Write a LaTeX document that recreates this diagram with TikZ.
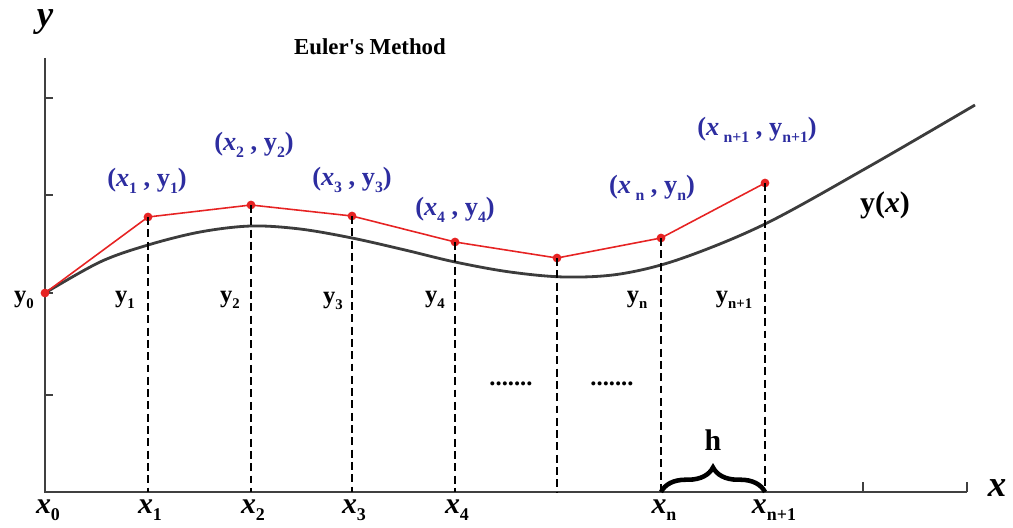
\documentclass[tikz,border=0pt]{standalone}
\usepackage{fontspec}
\setmainfont{Liberation Serif}
\usetikzlibrary{decorations.pathreplacing}
\definecolor{ptblue}{RGB}{45,45,160}
\definecolor{ptred}{RGB}{230,35,35}
\definecolor{curvegray}{RGB}{60,60,60}
\newcommand{\lo}[1]{\raisebox{-0.55ex}{\scalebox{0.6}{\bfseries #1}}}
\newcommand{\xx}{\textbf{\textit{x}}}
\newcommand{\yy}{\textbf{y}}
\begin{document}
\begin{tikzpicture}[x=0.02cm,y=-0.02cm,
  axisline/.style={draw=black!75,line width=1.1pt},
  exact/.style={draw=curvegray,line width=1.6pt},
  euler/.style={draw=ptred,line width=0.9pt},
  guide/.style={draw=black,line width=0.8pt,dash pattern=on 4.5pt off 2.5pt},
  pt/.style={circle,fill=ptred,inner sep=0pt,minimum size=5pt},
  ptlabel/.style={text=ptblue,font=\fontsize{15}{17}\selectfont\bfseries},
  ylab/.style={font=\fontsize{14}{16}\selectfont\bfseries},
  xlab/.style={font=\fontsize{17}{19}\selectfont\bfseries},
  ticks/.style={draw=black!75,line width=1pt}]
\useasboundingbox (0,0) rectangle (1013,527);
% axes
\coordinate (O) at (45,492);
\coordinate (ytop) at (45,58);
\coordinate (xend) at (967,492);
\draw[axisline] (ytop) -- (O) -- (xend);
\foreach \t in {98,195,293,395} \draw[ticks] (45,\t) -- (53,\t);
\foreach \t in {863,967} \draw[ticks] (\t,492) -- (\t,482);
% exact curve
\draw[exact] plot[smooth,tension=0.55] coordinates {(45,293) (100,262) (148,245) (200,232) (251,226) (300,229) (352,238) (405,250) (455,262) (510,272) (565,277) (620,274) (680,259) (765,224) (870,166) (975,105)};
% Euler points
\node[pt] (p0) at (45,293) {};
\node[pt] (p1) at (148,217) {};
\node[pt] (p2) at (251,205) {};
\node[pt] (p3) at (352,216) {};
\node[pt] (p4) at (455,242) {};
\node[pt] (p5) at (557,258) {};
\node[pt] (pn) at (661,238) {};
\node[pt] (pm) at (765,183) {};
\draw[euler] (p0.center) -- (p1.center) -- (p2.center) -- (p3.center) -- (p4.center) -- (p5.center) -- (pn.center) -- (pm.center);
% base coordinates and dashed guides
\coordinate (b1) at (148,492);
\coordinate (b2) at (251,492);
\coordinate (b3) at (352,492);
\coordinate (b4) at (455,492);
\coordinate (b5) at (557,492);
\coordinate (bn) at (661,492);
\coordinate (bm) at (765,492);
\foreach \i in {1,2,3,4,5,n,m} \draw[guide] (p\i.center) -- (b\i);
% point labels
\node[ptlabel] (l1) at (147,181) {(\xx\lo{1} , \yy\lo{1})};
\node[ptlabel] (l2) at (254,145) {(\xx\lo{2} , \yy\lo{2})};
\node[ptlabel] (l3) at (352,180) {(\xx\lo{3} , \yy\lo{3})};
\node[ptlabel] (l4) at (455,210) {(\xx\lo{4} , \yy\lo{4})};
\node[ptlabel] (ln) at (652,188) {(\xx\,\lo{n} , \yy\lo{n})};
\node[ptlabel] (lm) at (757,130) {(\xx\,\lo{n+1} , \yy\lo{n+1})};
% curve label
\node[font=\fontsize{17}{19}\selectfont\bfseries] (yx) at (885,205) {y(\textit{x})};
% title and axis labels
\node[font=\fontsize{13}{15}\selectfont\bfseries] (title) at (370,47) {Euler\textquotesingle s Method};
\node[font=\fontsize{21}{23}\selectfont\bfseries\itshape] (ylabel) at (45,22) {y};
\node[font=\fontsize{21}{23}\selectfont\bfseries\itshape] (xlabel) at (997,488) {x};
% y-value labels
\node[ylab] (y0) at (24,300) {\yy\lo{0}};
\node[ylab] (y1) at (125,300) {\yy\lo{1}};
\node[ylab] (y2) at (230,300) {\yy\lo{2}};
\node[ylab] (y3) at (333,301) {\yy\lo{3}};
\node[ylab] (y4) at (435,300) {\yy\lo{4}};
\node[ylab] (yn) at (637,300) {\yy\lo{n}};
\node[ylab] (ym) at (734,300) {\yy\lo{n+1}};
% x-value labels
\node[xlab] (x0) at (48,510) {\xx\lo{0}};
\node[xlab] (x1) at (150,510) {\xx\lo{1}};
\node[xlab] (x2) at (253,510) {\xx\lo{2}};
\node[xlab] (x3) at (354,510) {\xx\lo{3}};
\node[xlab] (x4) at (457,510) {\xx\lo{4}};
\node[xlab] (xn) at (664,510) {\xx\lo{n}};
\node[xlab] (xm) at (774,510) {\xx\lo{n+1}};
% dots
\node[font=\fontsize{14}{16}\selectfont\bfseries] (d1) at (511,384) {.......};
\node[font=\fontsize{14}{16}\selectfont\bfseries] (d2) at (612,384) {.......};
% brace and h
\draw[line width=2.6pt,decorate,decoration={brace,amplitude=14pt}] (bn) -- (bm);
\node[font=\fontsize{17}{19}\selectfont\bfseries] (h) at (713,440) {h};
\end{tikzpicture}
\end{document}
